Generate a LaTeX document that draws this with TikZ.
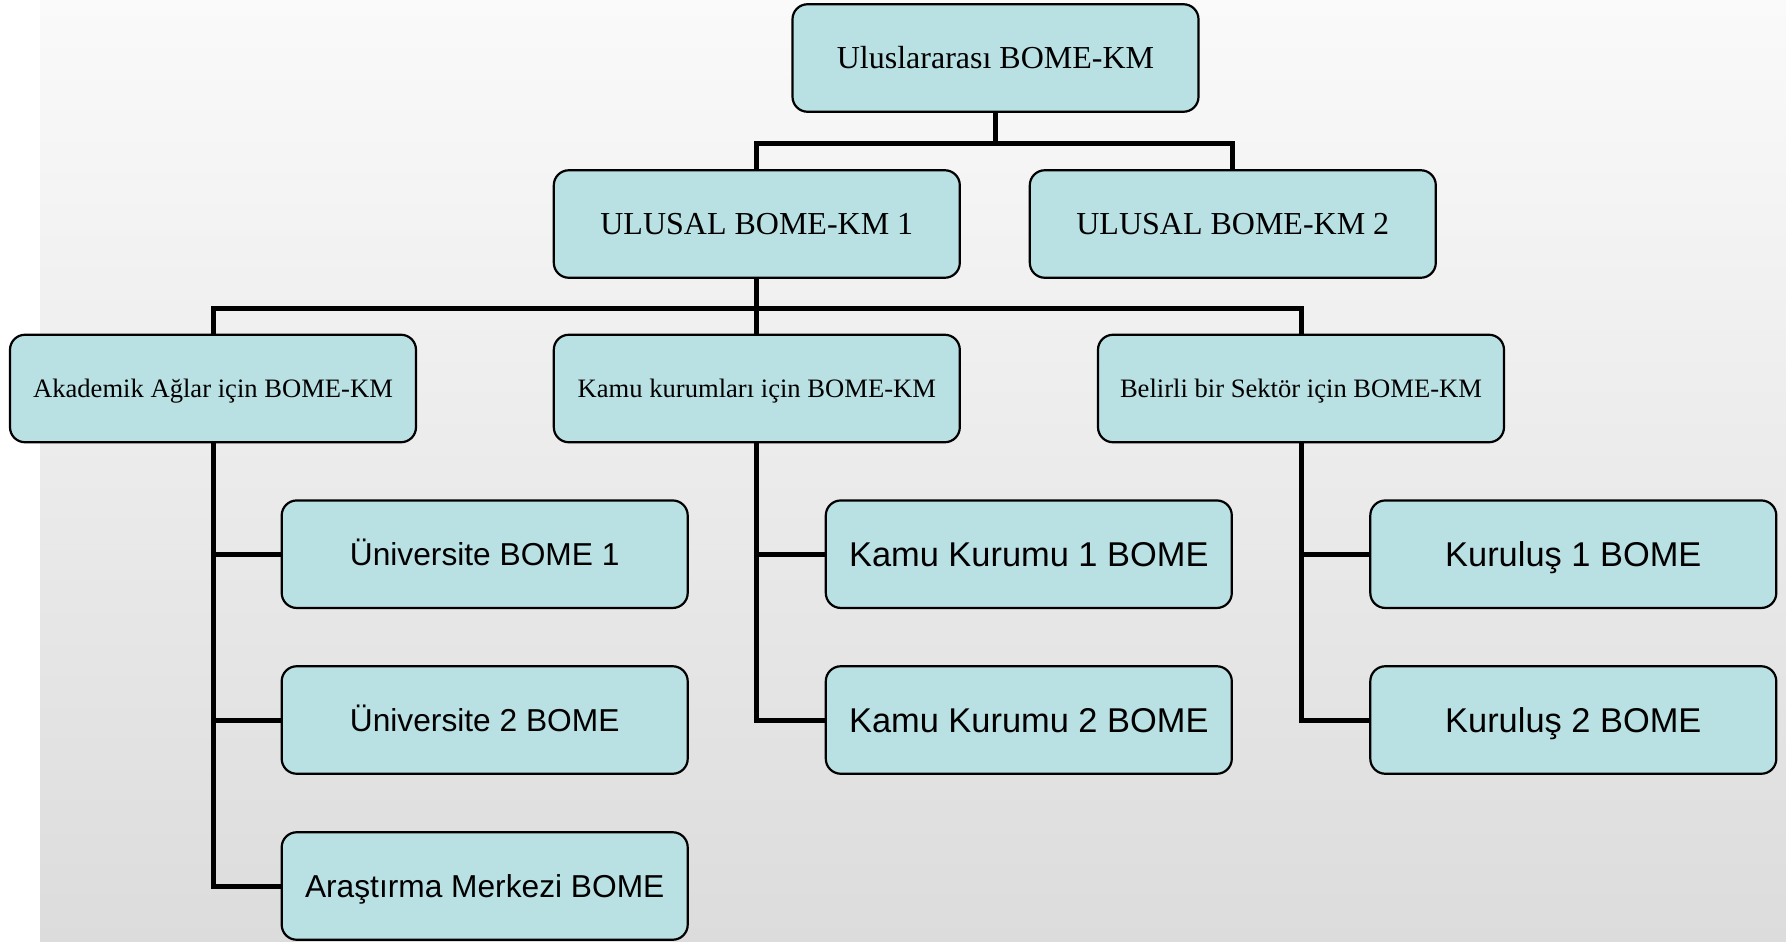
\documentclass[tikz,border=0pt]{standalone}
\usepackage{fontspec}
\newfontfamily\tnr{Liberation Serif}
\newfontfamily\arl{Liberation Sans}
\definecolor{boxfill}{RGB}{185,224,227}
\definecolor{bgtop}{RGB}{250,250,250}
\definecolor{bgbot}{RGB}{220,220,220}
\pgfdeclarelayer{bgfill}
\pgfdeclarelayer{lines}
\pgfsetlayers{bgfill,lines,main}
\begin{document}
\begin{tikzpicture}[x=1pt,y=-1pt,
  orgbox/.style={draw=black, line width=2.2pt, fill=boxfill, rounded corners=15pt,
    minimum width=406pt, minimum height=107.5pt, inner sep=0pt, align=center, text=black,
    text depth=0pt},
  bigser/.style={orgbox, font=\tnr\fontsize{32}{38}\selectfont, text height=21.2pt},
  smallser/.style={orgbox, font=\tnr\fontsize{26.6}{32}\selectfont, text height=17.6pt},
  sansA/.style={orgbox, font=\arl\fontsize{31.7}{38}\selectfont, text height=22.7pt},
  sansB/.style={orgbox, font=\arl\fontsize{34.4}{40}\selectfont, text height=24.6pt},
  conn/.style={draw=black, line width=5pt}]
\useasboundingbox (0,0) rectangle (1786,942);
\begin{pgfonlayer}{bgfill}
\fill[white] (0,0) rectangle (1786,942);
\fill[top color=bgtop, bottom color=bgbot] (40,0) rectangle (1786,942);
\end{pgfonlayer}

\coordinate (bus1) at (0,143.5);
\coordinate (bus2) at (0,308.7);

\node[bigser] (top) at (995.5,58) {Uluslararası BOME-KM};
\node[bigser] (u1) at (756.8,224) {ULUSAL BOME-KM 1};
\node[bigser] (u2) at (1232.8,224) {ULUSAL BOME-KM 2};
\node[smallser] (akad) at (213,388.5) {Akademik Ağlar için BOME-KM};
\node[smallser] (kamu) at (756.8,388.5) {Kamu kurumları için BOME-KM};
\node[smallser] (bel) at (1301,388.5) {Belirli bir Sektör için BOME-KM};
\node[sansA] (uni1) at (484.7,554.2) {Üniversite BOME 1};
\node[sansA] (uni2) at (484.7,720) {Üniversite 2 BOME};
\node[sansA] (aras) at (484.7,886) {Araştırma Merkezi BOME};
\node[sansB] (kk1) at (1028.8,554.2) {Kamu Kurumu 1 BOME};
\node[sansB] (kk2) at (1028.8,720) {Kamu Kurumu 2 BOME};
\node[sansB] (kr1) at (1573.3,554.2) {Kuruluş 1 BOME};
\node[sansB] (kr2) at (1573.3,720) {Kuruluş 2 BOME};

\begin{pgfonlayer}{lines}
\draw[conn] (top.south) -- (top.south |- bus1) -| (u1.north);
\draw[conn] (top.south |- bus1) -| (u2.north);
\draw[conn] (u1.south) -- (u1.south |- bus2) -| (akad.north);
\draw[conn] (u1.south |- bus2) -| (kamu.north);
\draw[conn] (u1.south |- bus2) -| (bel.north);
\draw[conn] (akad.south) |- (uni1.west);
\draw[conn] (akad.south) |- (uni2.west);
\draw[conn] (akad.south) |- (aras.west);
\draw[conn] (kamu.south) |- (kk1.west);
\draw[conn] (kamu.south) |- (kk2.west);
\draw[conn] (bel.south) |- (kr1.west);
\draw[conn] (bel.south) |- (kr2.west);
\end{pgfonlayer}
\end{tikzpicture}
\end{document}
